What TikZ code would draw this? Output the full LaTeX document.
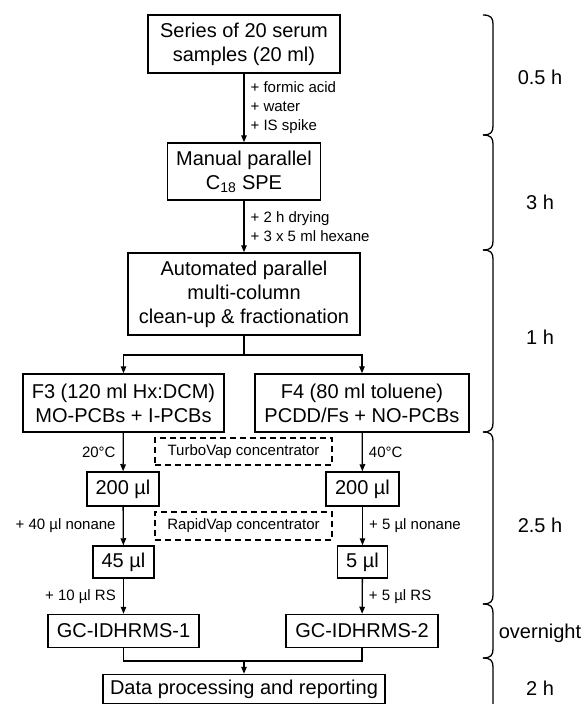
\documentclass[tikz,border=0pt]{standalone}
\usepackage{fontspec}
\setmainfont{Liberation Sans}
\usetikzlibrary{arrows.meta,positioning}

\begin{document}
\begin{tikzpicture}[
  x=1pt, y=-1pt,
  box/.style={draw, line width=1.5pt, align=center, inner sep=0pt, font=\fontsize{20}{24}\selectfont},
  dbox/.style={draw, line width=1.4pt, dash pattern=on 6pt off 4pt, inner sep=0pt, font=\fontsize{15}{19}\selectfont},
  note/.style={inner sep=0pt, align=left, font=\fontsize{15}{19}\selectfont},
  arr/.style={draw, line width=1.3pt, -{Triangle[length=7pt,width=5.5pt]}},
  link/.style={draw, line width=1.3pt},
  brc/.style={draw, line width=1.3pt},
  time/.style={inner sep=0pt, font=\fontsize{20}{24}\selectfont}
]
  \useasboundingbox (0,0) rectangle (584,704);

  % Sample preparation
  \node[box, minimum width=192pt, minimum height=58pt] (serum) at (244,44) {Series of 20 serum\\samples (20 ml)};
  \node[box, minimum width=153pt, minimum height=57pt] (spe) at (244,171.5) {Manual parallel\\C\textsubscript{18} SPE};
  \node[box, minimum width=232pt, minimum height=82pt] (clean) at (244,294) {Automated parallel\\multi-column\\clean-up \& fractionation};
  \draw[arr] (serum) -- node[note, right=6pt] {+ formic acid\\+ water\\+ IS spike} (spe);
  \draw[arr] (spe) -- node[note, right=6pt] {+ 2 h drying\\+ 3 x 5 ml hexane} (clean);

  % Fractions
  \node[box, minimum width=201pt, minimum height=58pt] (fthree) at (123.5,403) {F3 (120 ml Hx:DCM)\\MO-PCBs + I-PCBs};
  \node[box, minimum width=214pt, minimum height=58pt] (ffour) at (362,403) {F4 (80 ml toluene)\\PCDD/Fs + NO-PCBs};
  \coordinate (split) at (244,355);
  \draw[link] (clean) -- (split);
  \draw[arr] (split) -| (fthree);
  \draw[arr] (split) -| (ffour);

  % Concentration steps
  \node[dbox, minimum width=177pt, minimum height=27pt] (turbo) at (243.5,451.5) {TurboVap concentrator};
  \node[dbox, minimum width=177pt, minimum height=28pt] (rapid) at (243.5,526) {RapidVap concentrator};
  \node[box, minimum width=72pt, minimum height=34pt] (volA) at (123,489) {200 µl};
  \node[box, minimum width=73pt, minimum height=34pt] (volB) at (362.5,489) {200 µl};
  \node[box, minimum width=61pt, minimum height=32pt] (finA) at (123.5,562) {45 µl};
  \node[box, minimum width=50pt, minimum height=32pt] (finB) at (362.5,562) {5 µl};
  \draw[arr] (fthree) -- node[note, left=7pt] {20°C} (volA);
  \draw[arr] (ffour) -- node[note, right=6pt] {40°C} (volB);
  \draw[arr] (volA) -- node[note, left=7pt] {+ 40 µl nonane} (finA);
  \draw[arr] (volB) -- node[note, right=6pt] {+ 5 µl nonane} (finB);

  % Measurement and reporting
  \node[box, minimum width=151pt, minimum height=33pt] (gcA) at (123.5,631) {GC-IDHRMS-1};
  \node[box, minimum width=152pt, minimum height=33pt] (gcB) at (362,631) {GC-IDHRMS-2};
  \node[box, minimum width=282pt, minimum height=29pt] (data) at (244,689) {Data processing and reporting};
  \draw[arr] (finA) -- node[note, left=7pt] {+ 10 µl RS} (gcA);
  \draw[arr] (finB) -- node[note, right=6pt] {+ 5 µl RS} (gcB);
  \coordinate (merge) at (244,661);
  \draw[link] (gcA) |- (merge) -| (gcB);
  \draw[arr] (merge) -- (data);

  % Time braces
  \foreach \ya/\yb in {15/135, 135/250, 250/432, 432/604, 604/658, 658/716}
    \draw[brc] (483,\ya) .. controls (491,\ya) and (493,\ya+3) .. (493,\ya+9)
      -- (493,\yb-9) .. controls (493,\yb-3) and (491,\yb) .. (483,\yb);
  \node[time] (tA) at (540,77) {0.5 h};
  \node[time] (tB) at (540,202) {3 h};
  \node[time] (tC) at (540,337) {1 h};
  \node[time] (tD) at (540,525) {2.5 h};
  \node[time] (tE) at (540,633) {overnight};
  \node[time] (tF) at (540,688) {2 h};
\end{tikzpicture}
\end{document}
